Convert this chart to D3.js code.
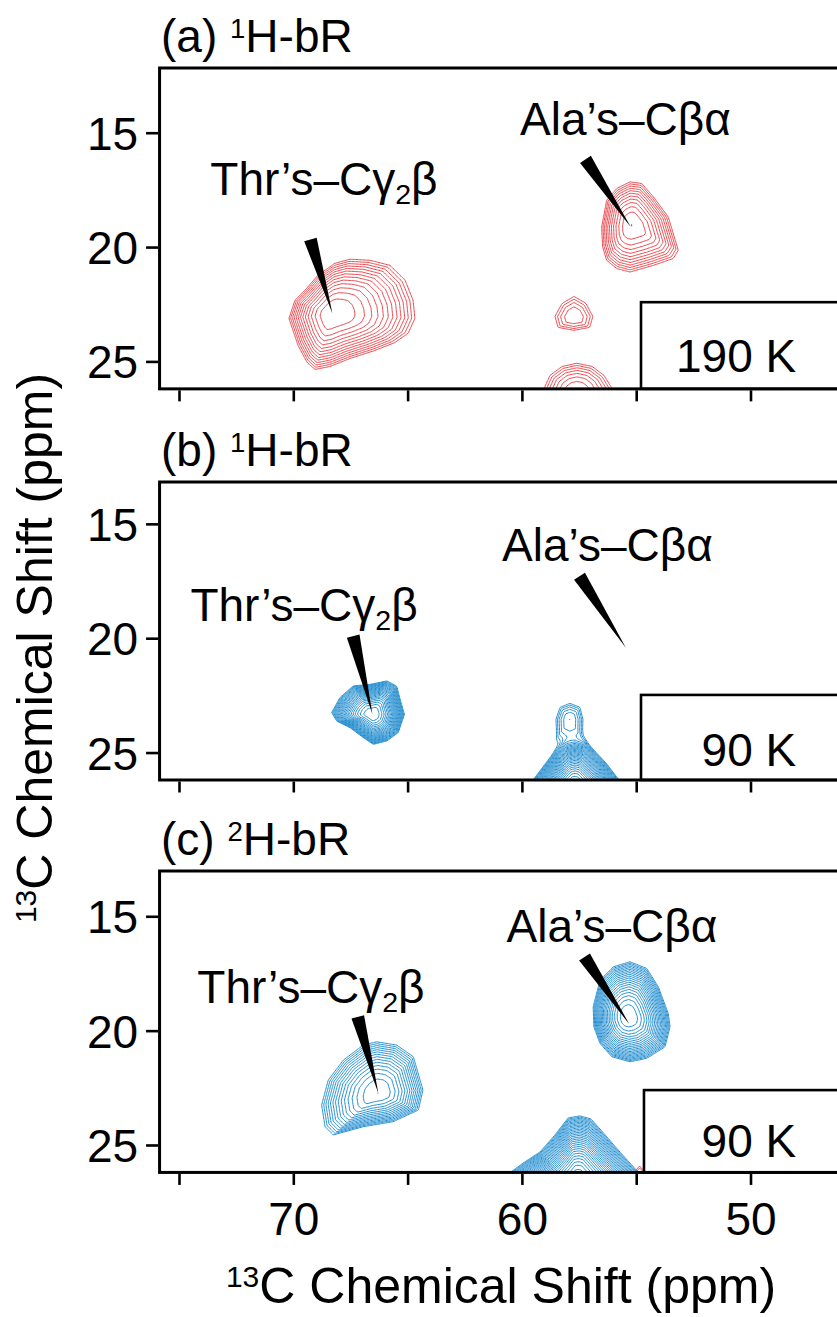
<!DOCTYPE html>
<html><head><meta charset="utf-8">
<script src="https://cdn.jsdelivr.net/npm/d3@7"></script>
<style>
body{margin:0;background:#fff}
svg{display:block}
text{font-family:"Liberation Sans",Arial,Helvetica,sans-serif;fill:#000}
</style>
</head><body>
<svg id="chart" width="837" height="1317"></svg>
<script>
// ---------------- DATA ----------------
const panelIds = ["a", "b", "c"];
const panelLetters = ["(a) ", "(b) ", "(c) "];
const panelIsotopes = ["1", "1", "2"];
const panelTemps = ["190 K", "90 K", "90 K"];
const panelYTop = [12.17, 13.17, 13.02];   // ppm at top edge of each frame
const yBottom = 26.2;                         // ppm at bottom edge
const xLeft = 75.85, xRight = 45.0;           // ppm at left/right frame edges
const xTicks = [75, 70, 65, 60, 55, 50];
const xTickLabeled = [70, 60, 50];
const yTicks = [15, 20, 25];
const showXLabels = [false, false, true];
const tempBoxCorner = [[54.79, 22.41], [54.79, 22.48], [54.66, 22.6]];

// peaks: apex (ppm), outer-contour outline (ppm), number of contour levels
const thrA_center = [68.31, 22.94];
const thrA_outline = [[70.19,23.12],[69.93,22.33],[69.49,21.89],[68.92,21.23],[68.18,20.71],[67.52,20.53],[66.64,20.58],[65.77,20.8],[65.11,21.45],[64.76,22.33],[64.68,23.12],[64.98,23.77],[65.55,24.17],[66.43,24.52],[67.52,24.87],[68.39,25.22],[69.05,25.35],[69.4,25.04],[69.79,24.3]];
const alaA_center = [55.2, 19.04];
const alaA_outline = [[56.51,19.12],[56.29,17.95],[55.85,17.44],[55.27,17.15],[54.76,17.22],[54.25,17.8],[53.6,18.68],[53.16,20.14],[53.38,20.5],[54.25,20.8],[55.27,21.09],[55.85,20.94],[56.29,20.58],[56.47,19.99]];
const smallA_center = [57.72, 23.06];
const smallA_outline = [[58.24,22.46],[57.72,22.16],[57.2,22.46],[56.9,23.03],[57.03,23.51],[57.72,23.64],[58.42,23.51],[58.55,23.03]];
const botA_center = [57.59, 26.36];
const botA_outline = [[59.03,26.18],[58.77,25.61],[58.24,25.22],[57.59,25.08],[56.93,25.22],[56.41,25.61],[56.06,26.18],[56.06,27.15],[57.59,27.58],[59.03,27.15]];

const thrB_center = [66.54, 23.33];
const thrB_outline = [[68.32,23.25],[67.96,22.6],[67.38,22.09],[66.64,22.02],[65.91,21.87],[65.48,22.09],[65.33,22.67],[65.14,23.33],[65.41,24.13],[65.91,24.49],[66.5,24.64],[66.94,24.34],[67.52,23.91],[68.1,23.62]];
const baseB_center = [57.68, 26.6];
const baseB_outline = [[59.51,26.2],[58.95,25.46],[58.51,24.9],[58.11,24.51],[57.68,24.42],[57.24,24.51],[56.85,24.9],[56.32,25.46],[55.75,26.2],[55.49,27.03],[57.68,28.34],[59.86,27.03]];
const headB_center = [57.9, 23.55];
const headB_outline = [[58.47,24.42],[58.51,23.55],[58.33,23.02],[57.9,22.85],[57.46,23.02],[57.33,23.55],[57.37,24.42],[57.9,24.64]];

const thrC_center = [66.28, 22.71];
const thrC_outline = [[68.76,23.25],[68.47,22.16],[67.81,21.29],[66.94,20.63],[66.35,20.49],[65.48,20.63],[64.75,21.14],[64.33,22.6],[64.53,23.47],[65.63,23.98],[66.94,24.2],[68.25,24.56],[68.61,24.2]];
const alaC_center = [55.35, 19.4];
const alaC_outline = [[56.88,18.96],[56.58,17.79],[56.0,17.21],[55.27,16.99],[54.54,17.28],[54.03,18.09],[53.6,19.25],[53.52,19.83],[53.74,20.71],[54.54,21.21],[55.27,21.36],[56.07,21.14],[56.58,20.56],[56.85,19.83]];
const botC_center = [57.55, 26.88];
const botC_outline = [[60.48,26.18],[59.87,25.74],[59.21,25.31],[58.55,24.56],[57.98,23.82],[57.46,23.73],[56.98,23.86],[56.36,24.56],[55.71,25.31],[54.92,26.18],[54.83,27.55],[57.68,28.2],[60.52,27.55]];
const negC_center = [54.85, 26.2];
const negC_outline = [[55.1,26.2],[54.85,25.92],[54.6,26.2],[54.85,26.5]];

// [panel, sign(+1 positive / -1 negative), center, outline, levels]
const peakTable = [
  [0, 1, thrA_center, thrA_outline, 13],
  [0, 1, alaA_center, alaA_outline, 11],
  [0, 1, smallA_center, smallA_outline, 4],
  [0, 1, botA_center, botA_outline, 7],
  [1, 1, thrB_center, thrB_outline, 22],
  [1, 1, baseB_center, baseB_outline, 30],
  [1, 1, headB_center, headB_outline, 5],
  [2, 1, thrC_center, thrC_outline, 14],
  [2, 1, alaC_center, alaC_outline, 20],
  [2, 1, botC_center, botC_outline, 30],
  [2, -1, negC_center, negC_outline, 2]
];

// annotations: [label kind, label anchor ppm (x,y), wedge base ppm, wedge tip ppm]
const annotA = [["thr", [68.66, 17.72], [69.25, 19.67], [68.29, 22.91]], ["ala", [55.47, 15.1], [57.22, 16.17], [55.24, 19.12]]];
const annotB = [["thr", [69.53, 19.25], [67.38, 19.91], [66.54, 23.33]], ["ala", [56.26, 16.63], [57.48, 17.29], [55.46, 20.41]]];
const annotC = [["thr", [69.23, 18.79], [67.18, 19.4], [66.28, 22.74]], ["ala", [56.06, 16.12], [57.26, 16.78], [55.3, 19.72]]];
const annotations = [annotA, annotB, annotC];
const tempLabelPos = [[48.0, 25.47], [48.0, 25.59], [48.0, 25.51]];

// ---------------- LAYOUT / STYLE ----------------
const panelTopPx = [68, 482, 871];
const pxPerPpm = 22.87;
const posColors = ["#e8464c", "#1f8ccf", "#1f8ccf"];
const negColor = "#e8464c";
const FS = 46;
const RATIO = 1.25;
const STEP = 0.06;

const svg = d3.select("#chart");
svg.append("rect").attr("width", 837).attr("height", 1317).attr("fill", "#fff");
const x = d3.scaleLinear().domain([70, 50]).range([293.3, 750.5]);
const X0 = x(xLeft), X1 = x(xRight);
const defs = svg.append("defs");

function makePeak(center, outline, n) {
  const rel = outline.map(([a, b]) => [a - center[0], b - center[1]]);
  const edges = rel.map((a, i) => [a, rel[(i + 1) % rel.length]]);
  const c = n * Math.log(RATIO);
  return function (px, py) {
    const dx = px - center[0], dy = py - center[1];
    if (Math.abs(dx) < 1e-9 && Math.abs(dy) < 1e-9) return Math.exp(c);
    let rho = Infinity;
    for (const [a, b] of edges) {
      const ex = b[0] - a[0], ey = b[1] - a[1];
      const den = dx * ey - dy * ex;
      if (Math.abs(den) < 1e-12) continue;
      const t = (a[0] * ey - a[1] * ex) / den;
      const u = (a[0] * dy - a[1] * dx) / den;
      if (t > 0 && u >= -1e-9 && u <= 1 + 1e-9) { rho = 1 / t; break; }
    }
    if (rho > 3) return 0;
    return Math.exp(c * (1 - rho * rho));
  };
}

function drawContours(g, y, yTopPpm, peaks, color) {
  if (!peaks.length) return;
  const fns = peaks.map(p => makePeak(p[2], p[3], p[4]));
  const maxN = d3.max(peaks, p => p[4]);
  const yEnd = yBottom + 3;
  const nx = Math.ceil((xLeft - xRight) / STEP) + 1;
  const ny = Math.ceil((yEnd - yTopPpm) / STEP) + 1;
  const values = new Float64Array(nx * ny);
  for (let j = 0; j < ny; j++) {
    const py = yTopPpm + j * STEP;
    for (let i = 0; i < nx; i++) {
      const px = xLeft - i * STEP;
      let v = 0;
      for (const f of fns) v += f(px, py);
      values[j * nx + i] = v;
    }
  }
  const levels = d3.range(0, maxN).map(k => Math.pow(RATIO, k) * 0.999);
  const contours = d3.contours().size([nx, ny]).thresholds(levels)(values);
  const proj = d3.geoTransform({
    point: function (cx, cy) {
      const ppmX = xLeft - (cx - 0.5) * STEP;
      const ppmY = yTopPpm + (cy - 0.5) * STEP;
      this.stream.point(x(ppmX), y(ppmY));
    }
  });
  const path = d3.geoPath(proj);
  g.selectAll(null).data(contours).join("path")
    .attr("d", path)
    .attr("fill", "none")
    .attr("stroke", color)
    .attr("stroke-width", 1)
    .attr("stroke-linejoin", "round");
}

function wedge(g, base, tip, y) {
  const bx = x(base[0]), by = y(base[1]), tx = x(tip[0]), ty = y(tip[1]);
  const len = Math.hypot(tx - bx, ty - by);
  const nxv = -(ty - by) / len, nyv = (tx - bx) / len;
  const w = 6.5;
  g.append("path")
    .attr("d", `M${bx + nxv * w},${by + nyv * w}L${tx},${ty}L${bx - nxv * w},${by - nyv * w}Z`)
    .attr("fill", "#000");
}

panelIds.forEach((id, p) => {
  const top = panelTopPx[p];
  const bottom = top + (yBottom - panelYTop[p]) * pxPerPpm;
  const y = d3.scaleLinear().domain([panelYTop[p], yBottom]).range([top, bottom]);
  const clipId = "clip-" + id;
  defs.append("clipPath").attr("id", clipId)
    .append("rect").attr("x", X0).attr("y", top).attr("width", X1 - X0).attr("height", bottom - top);

  const g = svg.append("g");
  const cg = g.append("g").attr("clip-path", `url(#${clipId})`);
  const pos = peakTable.filter(d => d[0] === p && d[1] > 0);
  const neg = peakTable.filter(d => d[0] === p && d[1] < 0);
  drawContours(cg.append("g"), y, panelYTop[p], pos, posColors[p]);
  drawContours(cg.append("g"), y, panelYTop[p], neg, negColor);

  // annotations
  annotations[p].forEach(([kind, lab, base, tip]) => {
    wedge(g, base, tip, y);
    const t = g.append("text").attr("x", x(lab[0])).attr("y", y(lab[1]))
      .attr("text-anchor", "middle").attr("font-size", FS);
    if (kind === "thr") {
      t.append("tspan").text("Thr\u2019s\u2013C\u03B3");
      t.append("tspan").attr("font-size", FS * 0.62).attr("dy", 9).text("2");
      t.append("tspan").attr("dy", -9).text("\u03B2");
    } else {
      t.text("Ala\u2019s\u2013C\u03B2\u03B1");
    }
  });

  // temperature box
  const bc = tempBoxCorner[p];
  g.append("rect").attr("x", x(bc[0])).attr("y", y(bc[1]))
    .attr("width", X1 + 20 - x(bc[0])).attr("height", bottom - y(bc[1]))
    .attr("fill", "#fff").attr("stroke", "#000").attr("stroke-width", 2.6);
  g.append("text").attr("x", x(tempLabelPos[p][0])).attr("y", y(tempLabelPos[p][1]))
    .attr("text-anchor", "end").attr("font-size", FS).text(panelTemps[p]);

  // frame
  g.append("rect").attr("x", X0).attr("y", top).attr("width", X1 + 20 - X0).attr("height", bottom - top)
    .attr("fill", "none").attr("stroke", "#000").attr("stroke-width", 3);

  // x axis ticks
  const xa = g.append("g").attr("transform", `translate(0,${bottom + 1.5})`)
    .call(d3.axisBottom(x).tickValues(xTicks).tickSize(11).tickPadding(0)
      .tickFormat(d => (showXLabels[p] && xTickLabeled.includes(d)) ? d : ""));
  xa.select(".domain").remove();
  xa.selectAll(".tick line").attr("stroke", "#000").attr("stroke-width", 2.6);
  xa.selectAll(".tick text").attr("y", 61).attr("dy", 0).attr("font-size", FS)
    .attr("font-family", null).attr("fill", "#000");

  // y axis ticks
  const ya = g.append("g").attr("transform", `translate(${X0 - 1.5},0)`)
    .call(d3.axisLeft(y).tickValues(yTicks).tickSize(12).tickPadding(0));
  ya.select(".domain").remove();
  ya.selectAll(".tick line").attr("stroke", "#000").attr("stroke-width", 2.6);
  ya.selectAll(".tick text").attr("x", -20).attr("dy", "0.36em").attr("font-size", FS)
    .attr("font-family", null).attr("fill", "#000");

  // panel title
  const tt = g.append("text").attr("x", 161).attr("y", top - 16).attr("font-size", FS);
  tt.append("tspan").text(panelLetters[p]);
  tt.append("tspan").attr("font-size", FS * 0.6).attr("dy", -14).text(panelIsotopes[p]);
  tt.append("tspan").attr("dy", 14).text("H-bR");
});

// axis titles
const xt = svg.append("text").attr("x", 501).attr("y", 1303).attr("text-anchor", "middle").attr("font-size", 50);
xt.append("tspan").attr("font-size", 30).attr("dy", -16).text("13");
xt.append("tspan").attr("dy", 16).text("C Chemical Shift (ppm)");

const yt = svg.append("text").attr("transform", "translate(52,648) rotate(-90)")
  .attr("text-anchor", "middle").attr("font-size", 50);
yt.append("tspan").attr("font-size", 30).attr("dy", -16).text("13");
yt.append("tspan").attr("dy", 16).text("C Chemical Shift (ppm)");
</script>
</body></html>
